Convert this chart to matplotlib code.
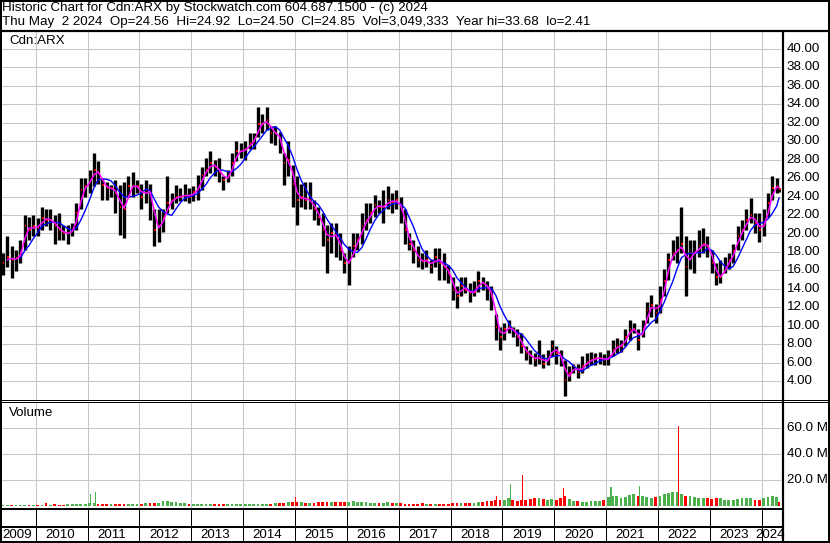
import matplotlib
matplotlib.use("Agg")
import matplotlib.pyplot as plt
import numpy as np
import pandas as pd
from matplotlib.lines import Line2D

W, H = 830, 543

# ---------------- data (monthly bars, May 2009 .. May 2024) ----------------
highs = [17.9, 19.7, 18.6, 18.2, 19.3, 22.0, 21.8, 22.0,
         21.7, 22.9, 22.7, 22.7, 22.0, 22.2, 20.9, 20.9, 21.1, 23.3, 26.0, 26.0,
         26.9, 28.7, 27.8, 26.0, 25.6, 25.3, 25.8, 25.3, 25.6, 26.2, 26.7, 25.8,
         25.4, 25.8, 25.4, 22.6, 22.6, 22.6, 26.2, 24.4, 25.3, 24.9, 25.4, 24.9,
         25.1, 26.3, 27.2, 28.2, 28.9, 28.0, 28.2, 26.2, 26.9, 28.7, 30.0, 29.8,
         30.0, 30.9, 30.9, 33.7, 33.0, 33.68, 31.6, 31.6, 31.0, 28.7, 30.0, 27.4,
         26.2, 25.4, 25.6, 25.6, 23.6, 22.9, 22.2, 20.9, 21.1, 21.1, 20.0, 17.9,
         18.6, 20.0, 20.0, 22.2, 23.3, 23.3, 24.2, 23.6, 24.7, 25.1, 24.4, 24.7,
         24.0, 22.6, 20.0, 19.3, 18.6, 17.9, 18.2, 17.1, 18.4, 18.4, 17.9, 16.6,
         15.3, 14.3, 15.3, 15.3, 14.6, 14.8, 15.9, 15.3, 14.8, 14.3, 11.3, 9.9,
         10.3, 10.6, 9.9, 9.6, 9.2, 7.8, 7.4, 7.0, 8.5, 6.9, 7.4, 8.5,
         7.8, 7.4, 6.3, 5.6, 5.9, 5.9, 6.7, 7.0, 7.2, 7.0, 7.2, 6.9,
         7.4, 8.5, 8.7, 8.5, 9.6, 10.6, 10.3, 9.6, 10.6, 12.6, 13.3, 12.4,
         14.3, 16.1, 17.9, 19.3, 19.7, 22.9, 19.7, 19.3, 19.3, 20.4, 20.6, 19.7,
         18.2, 16.8, 17.1, 17.5, 17.9, 18.9, 20.8, 21.5, 22.6, 23.8, 22.2, 22.2,
         22.6, 24.4, 26.2, 26.0, 24.92]
lows = [15.5, 16.4, 15.2, 15.9, 16.8, 18.2, 19.3, 19.7,
        19.7, 20.4, 20.8, 20.4, 18.9, 19.3, 19.3, 18.9, 19.7, 20.4, 22.6, 24.0,
        24.4, 25.1, 25.4, 23.6, 23.6, 24.0, 22.2, 19.8, 19.5, 24.0, 24.0, 24.4,
        22.6, 23.3, 21.5, 18.6, 19.1, 20.2, 22.2, 22.6, 23.3, 23.5, 23.5, 23.3,
        23.5, 23.6, 24.7, 26.2, 26.5, 26.2, 25.6, 24.7, 25.6, 26.2, 27.8, 28.2,
        28.0, 29.1, 29.2, 30.5, 30.9, 31.2, 29.8, 29.6, 28.7, 25.3, 26.2, 22.9,
        20.9, 22.9, 22.6, 22.6, 21.5, 20.9, 18.6, 15.7, 17.9, 17.5, 17.1, 15.7,
        14.4, 17.5, 18.2, 18.9, 20.4, 21.1, 21.8, 22.2, 21.1, 22.6, 22.2, 22.6,
        21.1, 18.9, 18.2, 16.8, 16.4, 16.2, 16.4, 15.7, 16.4, 15.0, 15.0, 14.6,
        12.8, 11.9, 13.2, 13.5, 12.6, 13.2, 13.7, 13.9, 12.8, 11.7, 8.5, 7.4,
        8.5, 9.2, 8.8, 7.8, 7.0, 6.3, 5.9, 5.6, 5.9, 5.4, 5.8, 6.7,
        5.9, 5.6, 2.41, 4.0, 4.9, 4.3, 4.9, 5.4, 5.8, 5.8, 5.9, 5.8,
        5.8, 6.7, 7.0, 7.2, 7.8, 8.5, 9.2, 7.4, 8.8, 10.3, 11.0, 10.3,
        11.4, 13.2, 15.0, 17.1, 16.8, 17.9, 13.2, 16.1, 15.7, 17.5, 17.9, 17.5,
        15.7, 14.4, 14.6, 15.7, 16.1, 16.8, 18.2, 19.3, 20.4, 21.1, 20.0, 19.1,
        19.7, 21.8, 23.6, 24.4, 24.50]
closes = [16.8, 17.5, 17.1, 17.3, 17.9, 20.8, 20.4, 20.8,
          20.6, 21.7, 21.5, 21.5, 20.8, 20.4, 20.0, 20.0, 20.4, 22.2, 24.7, 25.1,
          25.8, 26.9, 26.5, 25.3, 24.9, 24.9, 24.4, 22.9, 22.6, 25.1, 25.1, 25.1,
          24.0, 24.7, 24.4, 20.4, 20.8, 21.7, 23.3, 23.6, 24.0, 24.0, 24.2, 24.0,
          24.5, 24.9, 26.3, 26.9, 27.6, 27.2, 26.7, 25.8, 26.2, 27.6, 28.9, 28.9,
          29.1, 29.8, 30.0, 31.9, 31.9, 32.3, 30.9, 30.9, 30.1, 27.6, 28.0, 25.4,
          23.6, 24.0, 23.6, 23.6, 22.6, 21.8, 20.4, 19.3, 20.0, 19.7, 18.2, 16.8,
          16.8, 18.6, 19.3, 20.8, 21.5, 22.2, 23.1, 22.9, 22.9, 23.6, 23.4, 23.6,
          22.6, 20.4, 18.9, 18.2, 17.1, 17.0, 17.1, 16.4, 17.5, 16.8, 16.4, 15.7,
          13.9, 13.2, 14.3, 13.9, 13.5, 13.7, 14.8, 14.6, 14.1, 13.2, 9.9, 8.8,
          9.6, 9.9, 9.4, 8.8, 7.8, 7.0, 6.7, 6.3, 6.7, 5.9, 6.4, 7.8,
          7.0, 6.7, 4.1, 4.9, 5.6, 5.0, 5.6, 6.1, 6.3, 6.5, 6.5, 6.3,
          6.5, 7.4, 7.8, 7.8, 8.8, 9.6, 9.7, 8.5, 9.6, 11.7, 12.3, 11.4,
          12.8, 14.8, 17.1, 17.9, 18.2, 18.9, 16.4, 17.9, 17.9, 18.6, 18.9, 18.6,
          16.8, 15.3, 15.3, 16.4, 17.1, 18.1, 19.7, 20.4, 21.5, 22.0, 21.1, 20.4,
          21.1, 23.3, 24.9, 25.1, 24.85]
volumes = [0.8, 0.7, 0.8, 0.9, 0.7, 1.0, 0.9, 1.0,
           1.0, 1.1, 2.5, 1.0, 1.2, 0.9, 1.0, 1.3, 1.2, 1.5, 1.4, 1.6,
           2.0, 2.2, 1.5, 1.4, 1.3, 1.6, 1.5, 1.7, 1.8, 1.4, 1.3, 1.5,
           1.7, 2.0, 2.4, 2.6, 2.3, 3.5, 4.0, 3.2, 2.8, 2.2, 2.0, 1.8,
           1.5, 1.4, 1.6, 1.5, 1.3, 1.4, 1.5, 1.2, 1.3, 1.4, 1.5, 1.3,
           1.4, 1.5, 1.6, 1.8, 1.7, 1.6, 1.8, 2.0, 2.3, 2.5, 2.8, 3.0,
           3.0, 2.8, 2.5, 2.6, 2.4, 2.8, 3.0, 3.2, 2.9, 3.0, 3.3, 3.1,
           3.4, 3.6, 3.0, 2.8, 2.7, 2.5, 2.6, 2.4, 2.5, 2.7, 2.3, 2.2,
           2.0, 1.8, 1.6, 1.5, 1.7, 2.0, 1.5, 1.4, 1.6, 1.8, 1.5, 1.6,
           2.0, 2.5, 2.2, 2.0, 2.3, 2.6, 3.0, 3.3, 3.5, 4.0, 4.5, 5.0,
           5.0, 6.0, 4.5, 4.0, 4.5, 5.0, 5.5, 6.0, 6.5, 5.5, 5.0, 5.5,
           5.0, 6.5, 8.0, 5.5, 4.0, 3.5, 3.0, 3.2, 3.5, 4.0, 3.6, 4.5,
           7.0, 8.0, 7.5, 6.5, 7.0, 8.5, 9.0, 8.0, 7.5, 7.0, 6.5, 7.0,
           8.0, 9.0, 10.0, 10.5, 11.0, 9.0, 8.0, 7.5, 7.0, 6.5, 6.0, 6.0,
           5.5, 6.0, 6.5, 5.0, 4.5, 5.0, 5.5, 6.0, 6.5, 6.0, 5.0, 4.5,
           6.0, 7.0, 7.5, 7.0, 3.0]
# single-week volume spikes: (date, millions, up-week?)
spike_dates = ["2011-01-20", "2011-02-28", "2015-01-05", "2018-11-20",
               "2019-03-01", "2019-05-20", "2020-03-05", "2021-02-05",
               "2021-08-25", "2022-05-25"]
spike_vols = [9.5, 10.5, 7.3, 8.0, 17.0, 24.0, 14.0, 15.0, 15.5, 61.5]
spike_up = [True, True, False, False, True, False, False, True, True, False]

price_ticks = [40, 38, 36, 34, 32, 30, 28, 26, 24, 22, 20, 18, 16, 14, 12, 10, 8, 6, 4]
vol_ticks = [20, 40, 60]
years = list(range(2009, 2025))

title1 = "Historic Chart for Cdn:ARX by Stockwatch.com 604.687.1500 - (c) 2024"
title2 = ("Thu May  2 2024  Op=24.56  Hi=24.92  Lo=24.50  Cl=24.85  "
          "Vol=3,049,333  Year hi=33.68  lo=2.41")
symbol = "Cdn:ARX"

# ---------------- helpers ----------------
plt.rcParams['font.family'] = ['Liberation Sans', 'DejaVu Sans']
FS = 9.6


def fx(px):
    return px / W


def fy(py):
    return 1 - py / H


def to_year(ts):
    ts = pd.DatetimeIndex(ts)
    return ts.year + (ts.dayofyear - 1) / 365.25


dates = list(pd.date_range("2009-05-01", periods=len(closes) - 1, freq="MS") + pd.Timedelta(days=14))
dates.append(pd.Timestamp("2024-05-02"))
t = np.asarray(to_year(dates))
ts_spike = np.asarray(to_year(spike_dates))

X0, X1 = 2009.350, 2024.372
PX_PER_YEAR = 51.86

fig = plt.figure(figsize=(W / 100, H / 100), dpi=100)
fig.patch.set_facecolor("white")

# price axes: pixel rows 32..400
axp = fig.add_axes([fx(2), fy(400), (781 - 2) / W, (400 - 32) / H])
# volume axes: pixel rows 402..508
axv = fig.add_axes([fx(2), fy(508), (781 - 2) / W, (508 - 402) / H])

grid_c = "#c8c8c8"
for ax in (axp, axv):
    ax.set_xlim(X0, X1)
    for s in ax.spines.values():
        s.set_visible(False)
    ax.tick_params(left=False, bottom=False, labelleft=False, labelbottom=False)
    ax.set_xticks(years[1:])
    ax.grid(True, color=grid_c, lw=0.75)
    ax.set_axisbelow(True)

axp.set_ylim(1.96, 41.83)
axp.set_yticks(price_ticks)
axv.set_ylim(-1.55, 80.3)
axv.set_yticks(vol_ticks)

# price bars
axp.vlines(t, lows, highs, color="black", lw=2.4)
axp.hlines(closes, t, t + 1.6 / PX_PER_YEAR, color="red", lw=1.3)

s = pd.Series(closes)
ma_short = s.rolling(2).mean()
ma_long = s.rolling(5).mean()
axp.plot(t, ma_long, color="#0000ff", lw=1.0)
axp.plot(t, ma_short, color="#ff00ff", lw=1.1)

# volume bars
green = "#4cb04c"
prev = np.r_[closes[0], closes[:-1]]
vcol = [green if c >= p else "#ff0000" for c, p in zip(closes, prev)]
axv.bar(t, volumes, width=2.8 / PX_PER_YEAR, color=vcol, bottom=0)
axv.bar(ts_spike, spike_vols, width=1.3 / PX_PER_YEAR,
        color=[green if u else "#ff0000" for u in spike_up])

# ---------------- frame lines ----------------
def hline(py, x0, x1, lw_px):
    fig.add_artist(Line2D([fx(x0), fx(x1)], [fy(py), fy(py)], color="black",
                          lw=lw_px * 0.72, transform=fig.transFigure, solid_capstyle="butt"))


def vline(px, y0, y1, lw_px):
    fig.add_artist(Line2D([fx(px), fx(px)], [fy(y0), fy(y1)], color="black",
                          lw=lw_px * 0.72, transform=fig.transFigure, solid_capstyle="butt"))


hline(1, 0, 830, 2)
hline(542, 0, 830, 2)
vline(1, 0, 543, 2)
vline(829, 0, 543, 2)
hline(30.7, 0, 830, 2.2)
vline(782.5, 30, 543, 2.2)
hline(400.2, 0, 830, 1)
hline(401.8, 0, 830, 1)
hline(509.3, 0, 782, 2)
hline(526.7, 0, 782, 2)

# year separators in the date band
for yr in years[1:]:
    px = 35.7 + (yr - 2010) * PX_PER_YEAR
    vline(px, 509, 541, 1)

# ---------------- texts ----------------
fig.text(fx(2), fy(8.5), title1, fontsize=FS, va="center", ha="left")
fig.text(fx(2), fy(22.5), title2, fontsize=FS, va="center", ha="left")
fig.text(fx(9), fy(41.5), symbol, fontsize=FS, va="center", ha="left")
fig.text(fx(9), fy(413), "Volume", fontsize=FS, va="center", ha="left")

for p in price_ticks:
    ypx = 104.3 + (34 - p) * 9.23
    fig.text(fx(786.5), fy(ypx), f"{p:.2f}", fontsize=FS, va="center", ha="left")
for v in vol_ticks:
    ypx = 506 - v * 1.295
    fig.text(fx(786.5), fy(ypx), f"{v:.1f} M", fontsize=FS, va="center", ha="left")

for yr in years:
    a = max(35.7 + (yr - 2010) * PX_PER_YEAR, 2)
    b = min(35.7 + (yr + 1 - 2010) * PX_PER_YEAR, 781)
    fig.text(fx((a + b) / 2 - 1.5), fy(535), str(yr), fontsize=FS, va="center", ha="center")

fig.savefig("out.png", dpi=100, facecolor="white")
